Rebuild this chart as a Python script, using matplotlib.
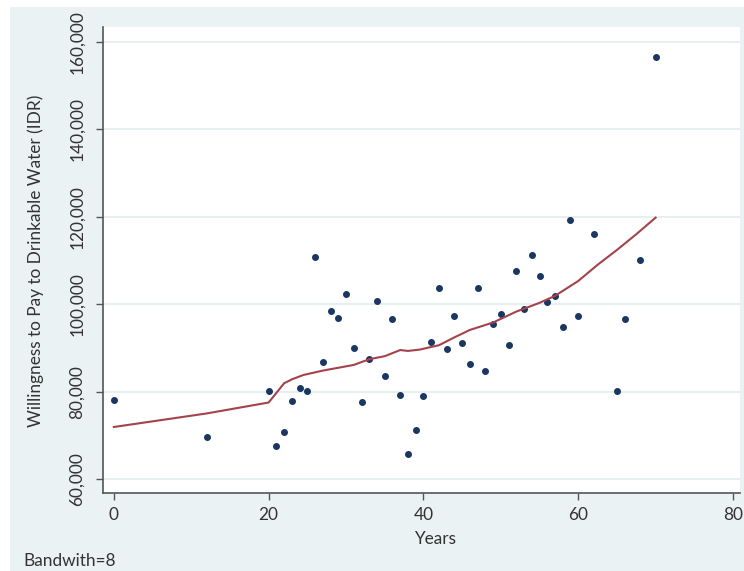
import matplotlib
matplotlib.use("Agg")
import matplotlib.pyplot as plt
from matplotlib.patches import Rectangle
from matplotlib.ticker import FuncFormatter

plt.rcParams['font.family'] = ['Lato', 'DejaVu Sans']

# data
years = [0, 12, 20, 21, 22, 23, 24, 25, 26, 27, 28, 29, 30, 31, 32, 33, 34, 35,
         36, 37, 38, 39, 40, 41, 42, 43, 44, 45, 46, 47, 48, 49, 50, 51, 52, 53,
         54, 55, 56, 57, 58, 59, 60, 62, 65, 66, 68, 70]
wtp = [78000, 69500, 80200, 67600, 70800, 77900, 80800, 80200, 110700, 86700,
       98400, 96900, 102400, 89900, 77600, 87500, 100700, 83600, 96500, 79200,
       65800, 71300, 79100, 91400, 103600, 89700, 97200, 91000, 86300, 103600,
       84600, 95400, 97800, 90700, 107600, 99000, 111300, 106500, 100400, 101900,
       94700, 119200, 97200, 116100, 80100, 96700, 110100, 156600]

# smoothed curve (lpoly, bandwidth 8)
fit_x = [0, 12, 20, 22, 23, 24.5, 27, 31, 33, 35, 37, 38, 39.5, 42, 44, 46,
         49, 52, 55, 57, 60, 62.5, 65, 67.5, 70]
fit_y = [71900, 75000, 77500, 81900, 82800, 83800, 84800, 86100, 87400, 88100,
         89500, 89300, 89600, 90600, 92400, 94100, 95800, 98300, 100300, 101900,
         105300, 109000, 112400, 116000, 119800]

xticks = [0, 20, 40, 60, 80]
yticks = [60000, 80000, 100000, 120000, 140000, 160000]

W, H = 744, 571
bg = '#eaf2f3'
txt = '#333333'
fs = 12.4
fig = plt.figure(figsize=(W / 100, H / 100), dpi=100, facecolor='white')
# light outer region, with a thin white margin at left and top
fig.patches.append(Rectangle((10 / W, 0), 1 - 10 / W, 1 - 7 / H, transform=fig.transFigure,
                             facecolor=bg, edgecolor='none', zorder=-10))

ax = fig.add_axes([103 / W, 1 - 493 / H, 637 / W, 466 / H])
ax.set_facecolor('white')

ax.plot(years, wtp, 'o', color='#1a3763', markersize=4, zorder=3)
ax.plot(fit_x, fit_y, color='#a3434c', linewidth=1.5, zorder=4)

ax.set_xlim(-1.4, 80.9)
ax.set_ylim(56800, 163400)
ax.set_xticks(xticks)
ax.set_yticks(yticks)
ax.yaxis.set_major_formatter(FuncFormatter(lambda v, p: f'{int(v):,}'))
ax.grid(axis='y', color='#e3edef', linewidth=1.2)
ax.set_axisbelow(True)

for s in ['top', 'right']:
    ax.spines[s].set_visible(False)
for s in ['left', 'bottom']:
    ax.spines[s].set_color('#555555')
    ax.spines[s].set_linewidth(1.2)

ax.tick_params(axis='both', colors='#555555', length=5, width=1, labelcolor=txt,
               labelsize=fs)
ax.tick_params(axis='x', pad=5)
ax.tick_params(axis='y', pad=8)
for lab in ax.get_yticklabels():
    lab.set_rotation(90)
    lab.set_va('center')

fig.text(435 / W, 1 - 539 / H, 'Years', fontsize=fs, color=txt, ha='center', va='center')
fig.text(36 / W, 1 - 261 / H, 'Willingness to Pay to Drinkable Water (IDR)', fontsize=fs,
         color=txt, ha='center', va='center', rotation=90)
fig.text(23 / W, 1 - 561 / H, 'Bandwith=8', fontsize=fs, color=txt,
         va='center', ha='left')

fig.savefig('out.png', dpi=100, facecolor='white')
